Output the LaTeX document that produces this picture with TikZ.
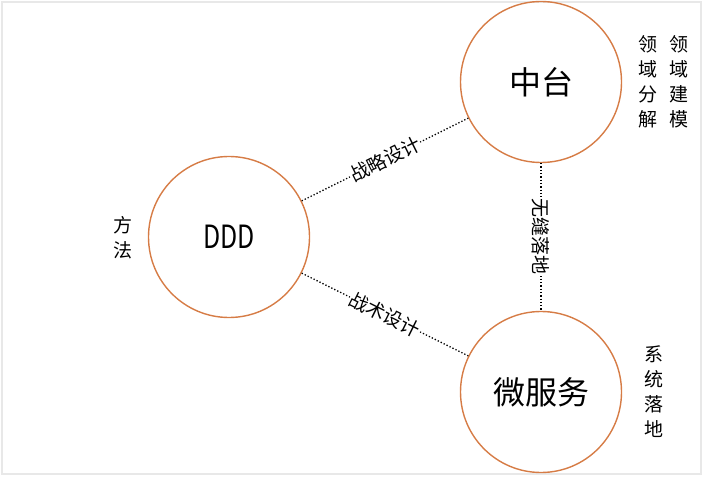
\documentclass[tikz,border=0pt]{standalone}
\usepackage{fontspec}
\setmainfont{Noto Sans CJK SC}
\newfontfamily\dddfont[FakeStretch=0.78]{Noto Sans CJK SC}
\usepackage{tikz}
\usetikzlibrary{positioning}
\definecolor{ringorange}{RGB}{214, 124, 70}
\definecolor{framegray}{RGB}{232, 232, 232}

\begin{document}
\begin{tikzpicture}[
  x=1pt, y=-1pt,
  ring/.style={circle, draw=ringorange, line width=1.4pt, minimum size=161pt,
               inner sep=0pt, font=\fontsize{32}{36}\selectfont},
  link/.style={dotted, line width=1.3pt, black},
  tag/.style={fill=white, inner sep=1pt, font=\fontsize{19}{22}\selectfont},
  side/.style={align=center, inner sep=0pt, font=\fontsize{19}{25}\selectfont}
]
  \useasboundingbox (0,0) rectangle (706,478);
  \draw[framegray, line width=1.5pt] (2,2) rectangle (701,474);

  % the three rings
  \node[ring] (ddd) at (229,237) {\dddfont DDD};
  \node[ring] (zhongtai) at (541,82) {中台};
  \node[ring] (weifuwu) at (541,392) {微服务};

  % notes beside the rings
  \node[side] (fangfa) at (123,238) {方\\法};
  \node[side] (fenjie) at (648,82) {领\\域\\分\\解};
  \node[side] (jianmo) at (679,82) {领\\域\\建\\模};
  \node[side] (luodi) at (654,392) {系\\统\\落\\地};

  % dotted links
  \draw[link] (ddd) -- (zhongtai)
    node[tag, midway, sloped] {战略设计};
  \draw[link] (ddd) -- (weifuwu)
    node[tag, midway, sloped] {战术设计};
  \draw[link] (zhongtai) -- (weifuwu)
    node[tag, midway, rotate=-90] {无缝落地};
\end{tikzpicture}
\end{document}
